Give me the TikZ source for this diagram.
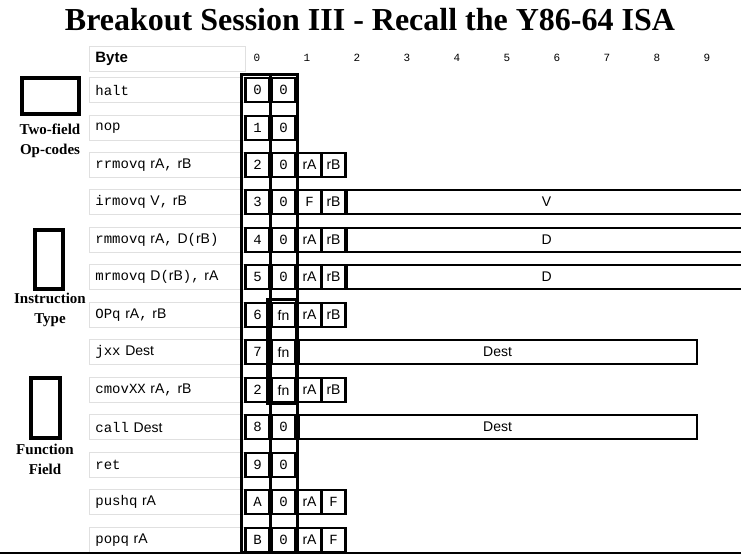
\documentclass[tikz,border=0pt]{standalone}
\usepackage{fontspec}
\setmainfont{Liberation Serif}
\setsansfont{Liberation Sans}
\setmonofont{Liberation Mono}
\begin{document}
\begin{tikzpicture}[x=1pt,y=-1pt,
  lbl/.style={draw=black!12,line width=0.8pt,minimum width=156pt,minimum height=25pt,anchor=west,inner sep=6pt,text width=144pt,align=left,font=\sffamily\fontsize{14}{15}\selectfont},
  cell/.style={draw,line width=2.2pt,minimum width=24pt,minimum height=24pt,inner sep=0pt,font=\sffamily\fontsize{14}{15}\selectfont},
  big/.style={draw,line width=3pt},
  hdr/.style={font=\ttfamily\fontsize{11}{12}\selectfont},
  leg/.style={font=\bfseries\fontsize{15}{20}\selectfont,align=center}]
\useasboundingbox (0,0) rectangle (741,558);
\node[font=\bfseries\fontsize{32}{34}\selectfont] (title) at (370,20) {Breakout Session III - Recall the Y86-64 ISA};
\node[lbl,font=\sffamily\bfseries\fontsize{15}{16}\selectfont] (byte) at (89,59) {Byte};
\foreach \i in {0,...,9}{\node[hdr] (h\i) at (257+50*\i,58) {\i};}
\newcommand{\irow}[5]{%
  \node[lbl] (l#1) at (89,#2) {#3};
  \node[cell] (a#1) at (257.5,#2) {#4};
  \node[cell] (b#1) at (283.5,#2) {#5};}
\irow{1}{90}{\texttt{halt}}{\texttt{0}}{\texttt{0}}
\irow{2}{128}{\texttt{nop}}{\texttt{1}}{\texttt{0}}
\irow{3}{165}{\texttt{rrmovq} rA\texttt{,} rB}{\texttt{2}}{\texttt{0}}
\irow{4}{202}{\texttt{irmovq} V\texttt{,} rB}{\texttt{3}}{\texttt{0}}
\irow{5}{240}{\texttt{rmmovq} rA\texttt{,} D\texttt{(}rB\texttt{)}}{\texttt{4}}{\texttt{0}}
\irow{6}{277}{\texttt{mrmovq} D\texttt{(}rB\texttt{),} rA}{\texttt{5}}{\texttt{0}}
\irow{7}{315}{\texttt{OPq} rA\texttt{,} rB}{\texttt{6}}{fn}
\irow{8}{352}{\texttt{jxx} Dest}{\texttt{7}}{fn}
\irow{9}{390}{\texttt{cmovXX} rA\texttt{,} rB}{\texttt{2}}{fn}
\irow{10}{427}{\texttt{call} Dest}{\texttt{8}}{\texttt{0}}
\irow{11}{465}{\texttt{ret}}{\texttt{9}}{\texttt{0}}
\irow{12}{502}{\texttt{pushq} rA}{\texttt{A}}{\texttt{0}}
\irow{13}{540}{\texttt{popq} rA}{\texttt{B}}{\texttt{0}}
\foreach \r/\y/\p/\q in {3/165/rA/rB,5/240/rA/rB,6/277/rA/rB,7/315/rA/rB,9/390/rA/rB,4/202/\texttt{F}/rB,12/502/rA/\texttt{F},13/540/rA/\texttt{F}}{
  \node[cell] (c\r) at (309.5,\y) {\p};
  \node[cell] (d\r) at (333.5,\y) {\q};}
\foreach \r/\y/\t in {4/202/V,5/240/D,6/277/D}{
  \node[cell,minimum width=400pt,anchor=west] (e\r) at (345.5,\y) {\t};}
\foreach \r/\y in {8/352,10/427}{
  \node[cell,minimum width=398pt,anchor=west] (e\r) at (297.5,\y) {Dest};}
% big frames
\draw[big] (241,74) rectangle (270,552);
\draw[big] (270,74) rectangle (297,552);
\draw[big] (267,299) rectangle (296,403);
\draw[line width=2pt] (0,553) -- (741,553);
% legend
\draw[big,line width=3.5pt] (22,78) rectangle (79,114);
\node[leg] (lg1) at (50,141) {Two-field\\Op-codes};
\draw[big,line width=3.5pt] (35,230) rectangle (63,289);
\node[leg] (lg2) at (50,310) {Instruction\\Type};
\draw[big,line width=3.5pt] (31,378) rectangle (60,438);
\node[leg] (lg3) at (45,459) {Function\\Field};
\end{tikzpicture}
\end{document}
